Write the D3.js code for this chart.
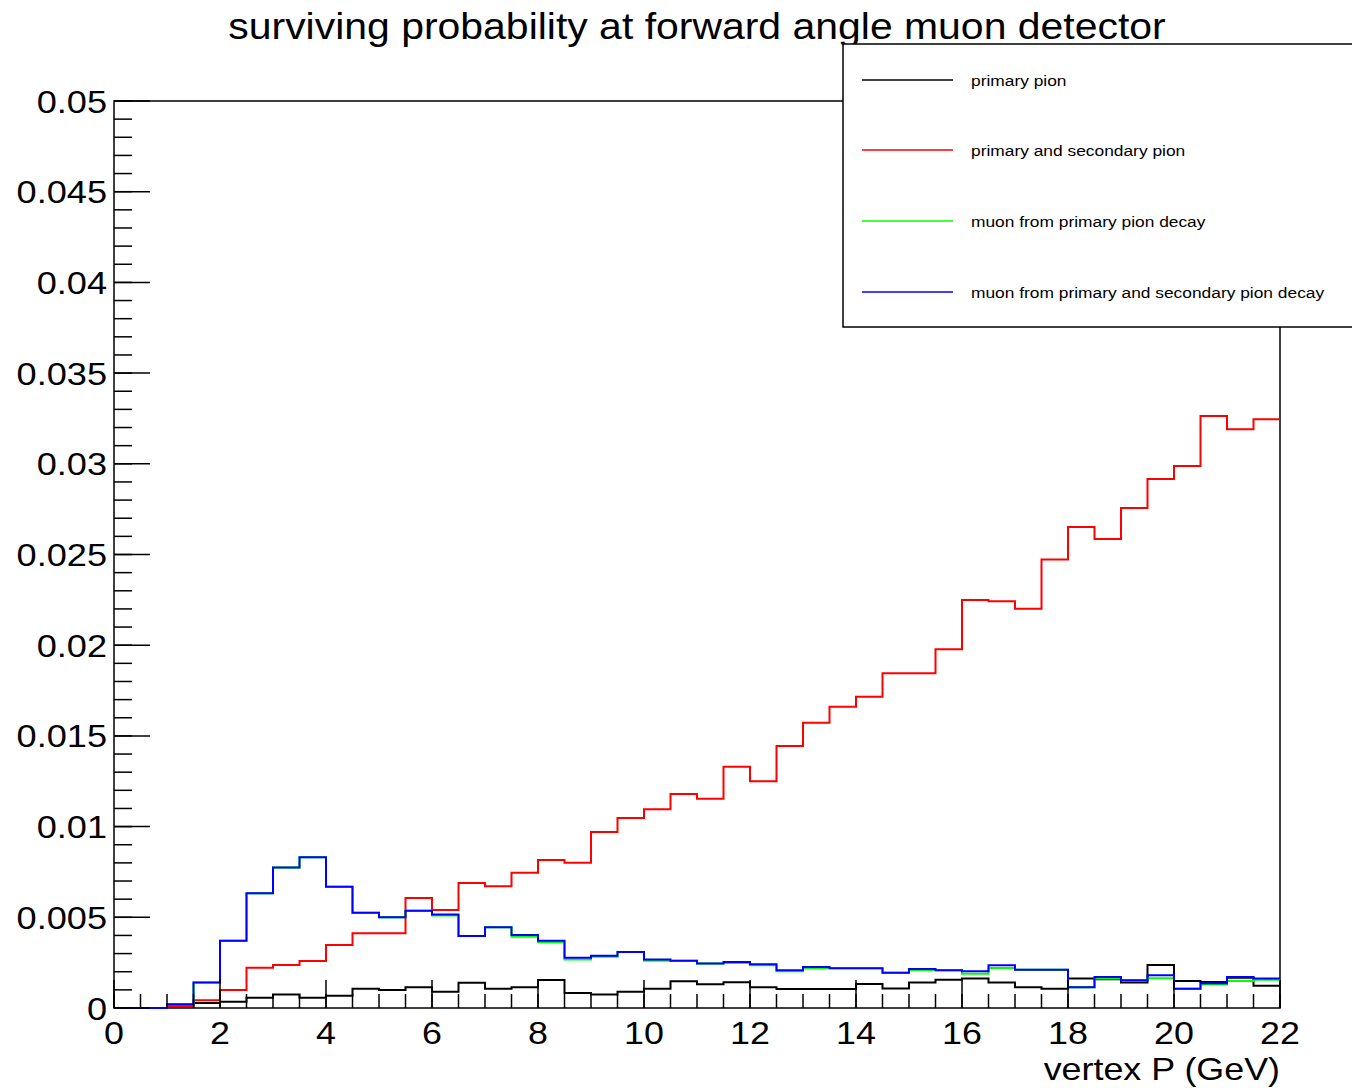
<!DOCTYPE html>
<html>
<head>
<meta charset="utf-8">
<script src="https://cdn.jsdelivr.net/npm/d3@7"></script>
<style>
  html, body { margin: 0; padding: 0; background: #fff; }
  svg { display: block; }
  text { font-family: "Liberation Sans", Arial, Helvetica, sans-serif; fill: #000; }
</style>
</head>
<body>
<svg id="chart" width="1352" height="1088"></svg>
<script>
// Histogram binning: 44 bins of 0.5 GeV from 0 to 22 GeV
const binEdges = d3.range(0, 22.0001, 0.5);

// Surviving probability per bin
const primaryPion = [
  0, 0, 0.0001, 0.00028, 0.00034, 0.00057, 0.00075, 0.00057, 0.00068, 0.00106,
  0.00099, 0.00114, 0.0009, 0.00139, 0.00106, 0.00114, 0.00154, 0.00083, 0.00075, 0.0009,
  0.00106, 0.00147, 0.00131, 0.00142, 0.00114, 0.00105, 0.00105, 0.00105, 0.00132, 0.00107,
  0.0014, 0.00156, 0.00162, 0.0014, 0.00114, 0.00106, 0.00162, 0.00158, 0.0014, 0.00237,
  0.00149, 0.00143, 0.00167, 0.00123
];
const primarySecondaryPion = [
  0, 0, 0.0001, 0.00043, 0.00099, 0.00222, 0.00237, 0.00259, 0.00347, 0.00412,
  0.00412, 0.00606, 0.0054, 0.00689, 0.00671, 0.00746, 0.00816, 0.00801, 0.0097, 0.01047,
  0.01095, 0.0118, 0.01154, 0.0133, 0.0125, 0.01444, 0.01573, 0.01661, 0.01716, 0.01845,
  0.01845, 0.01977, 0.02249, 0.02242, 0.02201, 0.02473, 0.02652, 0.02585, 0.02756, 0.02916,
  0.02988, 0.03263, 0.0319, 0.03245
];
const muonPrimaryDecay = [
  0, 0, 0.0002, 0.0014, 0.00371, 0.00632, 0.00774, 0.00831, 0.00669, 0.00525,
  0.005, 0.00536, 0.0051, 0.00397, 0.00445, 0.00393, 0.00362, 0.00268, 0.00283, 0.00309,
  0.0026, 0.00261, 0.00246, 0.00248, 0.00235, 0.00202, 0.00219, 0.00219, 0.00219, 0.00195,
  0.00209, 0.00208, 0.00189, 0.0022, 0.00211, 0.00211, 0.00114, 0.00162, 0.00153, 0.00164,
  0.00106, 0.0013, 0.00149, 0.00156
];
const muonPrimarySecondaryDecay = [
  0, 0, 0.0002, 0.0014, 0.00371, 0.00632, 0.00774, 0.00831, 0.00669, 0.00525,
  0.005, 0.00536, 0.00516, 0.00397, 0.00445, 0.00402, 0.00371, 0.00277, 0.00288, 0.00309,
  0.00268, 0.00261, 0.00246, 0.00254, 0.00241, 0.00208, 0.00226, 0.00219, 0.00219, 0.00195,
  0.00215, 0.00208, 0.00202, 0.00235, 0.00211, 0.00211, 0.00114, 0.00171, 0.00153, 0.0018,
  0.00106, 0.00136, 0.00171, 0.00162
];

const seriesNames = [
  "primary pion",
  "primary and secondary pion",
  "muon from primary pion decay",
  "muon from primary and secondary pion decay"
];
const seriesColors = ["#000000", "#ff0000", "#00ff00", "#0000ff"];
const seriesValues = [primaryPion, primarySecondaryPion, muonPrimaryDecay, muonPrimarySecondaryDecay];

const xMajorTicks = [0, 2, 4, 6, 8, 10, 12, 14, 16, 18, 20, 22];
const yMajorTicks = [0, 0.005, 0.01, 0.015, 0.02, 0.025, 0.03, 0.035, 0.04, 0.045, 0.05];
const yTickLabels = ["0", "0.005", "0.01", "0.015", "0.02", "0.025", "0.03", "0.035", "0.04", "0.045", "0.05"];

const titleText = "surviving probability at forward angle muon detector";
const xTitleText = "vertex P (GeV)";

// Frame geometry
const frame = { left: 114, right: 1280, top: 101, bottom: 1008 };
const stretch = 1.12; // glyphs are drawn slightly wide

const svg = d3.select("#chart");
const x = d3.scaleLinear().domain([0, 22]).range([frame.left, frame.right]);
const y = d3.scaleLinear().domain([0, 0.05]).range([frame.bottom, frame.top]);

function widen(sel, factor = stretch) {
  sel.each(function () {
    const w = this.getComputedTextLength();
    d3.select(this).attr("textLength", w * factor).attr("lengthAdjust", "spacingAndGlyphs");
  });
}

// Frame
svg.append("rect")
  .attr("x", frame.left).attr("y", frame.top)
  .attr("width", frame.right - frame.left).attr("height", frame.bottom - frame.top)
  .attr("fill", "none").attr("stroke", "#000").attr("stroke-width", 1.5);

// Histograms drawn as step outlines
const line = d3.line()
  .x(d => x(d[0]))
  .y(d => y(d[1]))
  .curve(d3.curveStepAfter);

const plot = svg.append("g");
seriesValues.forEach((vals, i) => {
  const pts = vals.map((v, k) => [binEdges[k], v]);
  pts.push([binEdges[vals.length], vals[vals.length - 1]]);
  plot.append("path")
    .datum(pts)
    .attr("d", line)
    .attr("fill", "none")
    .attr("stroke", seriesColors[i])
    .attr("stroke-width", 2);
});

// Y axis (ticks pointing into the frame)
const yAxisG = svg.append("g").attr("transform", `translate(${frame.left},0)`);
const yMinor = d3.range(0, 0.05001, 0.001);
yAxisG.selectAll("line.minor").data(yMinor).join("line")
  .attr("class", "minor")
  .attr("x1", 0).attr("x2", 18)
  .attr("y1", d => y(d)).attr("y2", d => y(d))
  .attr("stroke", "#000").attr("stroke-width", 1.5);
yAxisG.selectAll("line.major").data(yMajorTicks).join("line")
  .attr("class", "major")
  .attr("x1", 0).attr("x2", 36)
  .attr("y1", d => y(d)).attr("y2", d => y(d))
  .attr("stroke", "#000").attr("stroke-width", 1.5);
yAxisG.selectAll("text").data(yMajorTicks).join("text")
  .attr("x", -7)
  .attr("y", d => y(d) + 11.5)
  .attr("text-anchor", "end")
  .attr("font-size", 32)
  .text((d, i) => yTickLabels[i])
  .call(widen, 1.13);

// X axis (ticks pointing up into the frame)
const xAxisG = svg.append("g").attr("transform", `translate(0,${frame.bottom})`);
const xMinor = d3.range(0, 22.0001, 0.5);
xAxisG.selectAll("line.minor").data(xMinor).join("line")
  .attr("class", "minor")
  .attr("x1", d => x(d)).attr("x2", d => x(d))
  .attr("y1", 0).attr("y2", -14)
  .attr("stroke", "#000").attr("stroke-width", 1.5);
xAxisG.selectAll("line.major").data(xMajorTicks).join("line")
  .attr("class", "major")
  .attr("x1", d => x(d)).attr("x2", d => x(d))
  .attr("y1", 0).attr("y2", -28)
  .attr("stroke", "#000").attr("stroke-width", 1.5);
xAxisG.selectAll("text").data(xMajorTicks).join("text")
  .attr("x", d => x(d))
  .attr("y", 36)
  .attr("text-anchor", "middle")
  .attr("font-size", 32)
  .text(d => d3.format("d")(d))
  .call(widen);

// Axis title
svg.append("text")
  .attr("x", frame.right).attr("y", 1080)
  .attr("text-anchor", "end")
  .attr("font-size", 32)
  .text(xTitleText)
  .call(widen);

// Chart title
svg.append("text")
  .attr("x", 697).attr("y", 39)
  .attr("text-anchor", "middle")
  .attr("font-size", 36)
  .text(titleText)
  .call(widen, 1.137);

// Legend
const legend = svg.append("g");
legend.append("rect")
  .attr("x", 843).attr("y", 44)
  .attr("width", 530).attr("height", 283)
  .attr("fill", "#fff").attr("stroke", "#000").attr("stroke-width", 1.5);
const rowY = [80, 150, 221, 292];
seriesNames.forEach((name, i) => {
  legend.append("line")
    .attr("x1", 862).attr("x2", 953)
    .attr("y1", rowY[i]).attr("y2", rowY[i])
    .attr("stroke", seriesColors[i]).attr("stroke-width", 1.5);
  legend.append("text")
    .attr("x", 971).attr("y", rowY[i] + 5.5)
    .attr("font-size", 15.5)
    .text(name)
    .call(widen);
});
</script>
</body>
</html>
